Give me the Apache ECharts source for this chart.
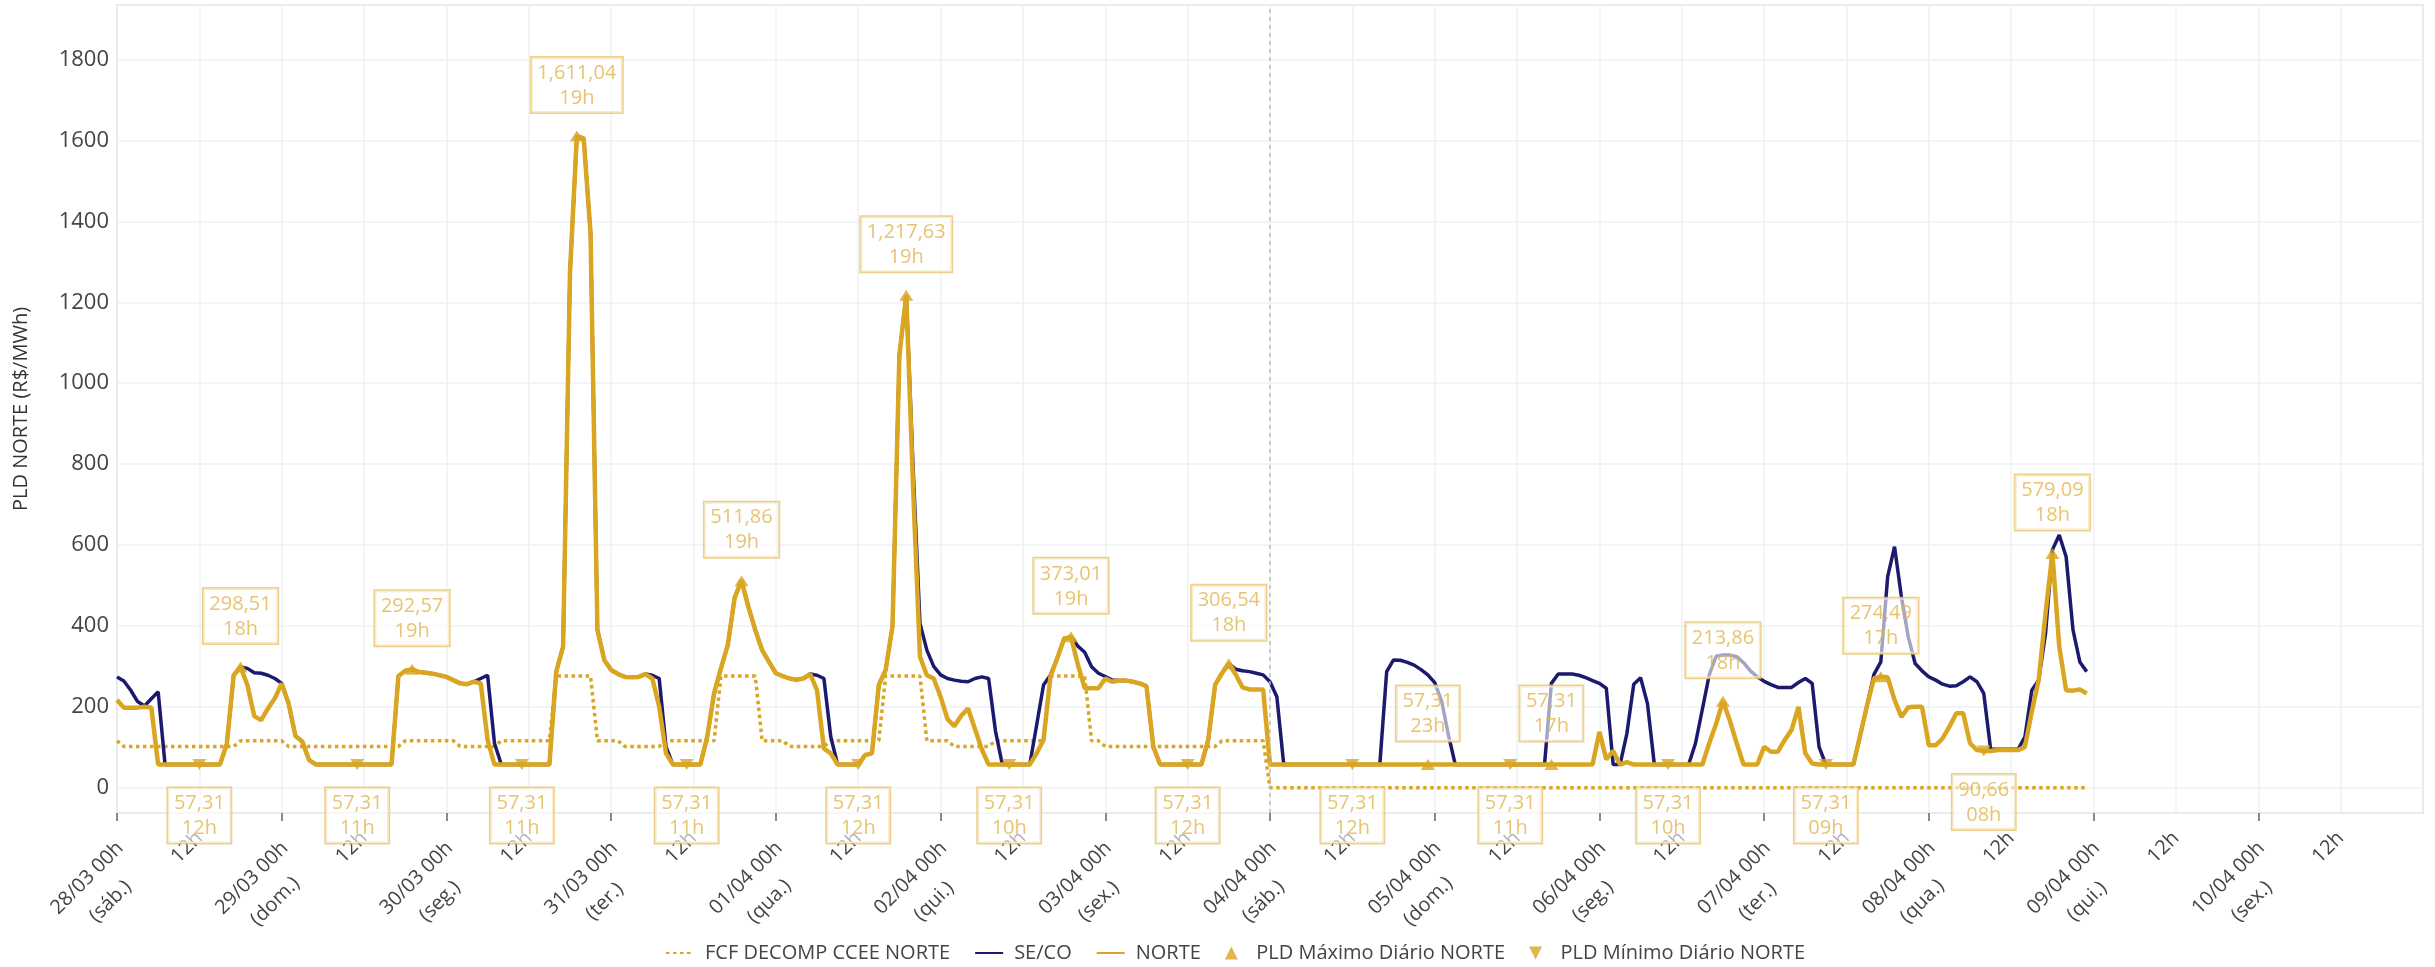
<!DOCTYPE html>
<html><head><meta charset="utf-8">
<script src="https://cdn.jsdelivr.net/npm/echarts@6/dist/echarts.min.js"></script>
<style>html,body{margin:0;padding:0;background:#fff}#c{width:2435px;height:967px}</style>
</head><body><div id="c"></div>
<script>
// Hourly values, index 0 = 28/03 00h
const fcfDecomp = [
// 28/03
116,102,102,102,102,102,102,102,102,102,102,102,102,102,102,102,102,102,116,116,116,116,116,116,
// 29/03
116,102,102,102,102,102,102,102,102,102,102,102,102,102,102,102,102,102,116,116,116,116,116,116,
// 30/03
116,116,102,102,102,102,102,102,116,116,116,116,116,116,116,116,276,276,276,276,276,276,116,116,
// 31/03
116,116,102,102,102,102,102,102,116,116,116,116,116,116,116,116,276,276,276,276,276,276,116,116,
// 01/04
116,116,102,102,102,102,102,102,116,116,116,116,116,116,116,116,276,276,276,276,276,276,116,116,
// 02/04
116,116,102,102,102,102,102,102,116,116,116,116,116,116,116,116,276,276,276,276,276,276,116,116,
// 03/04
102,102,102,102,102,102,102,102,102,102,102,102,102,102,102,102,102,116,116,116,116,116,116,116,
// 04/04
0,0,0,0,0,0,0,0,0,0,0,0,0,0,0,0,0,0,0,0,0,0,0,0,
// 05/04
0,0,0,0,0,0,0,0,0,0,0,0,0,0,0,0,0,0,0,0,0,0,0,0,
// 06/04
0,0,0,0,0,0,0,0,0,0,0,0,0,0,0,0,0,0,0,0,0,0,0,0,
// 07/04
0,0,0,0,0,0,0,0,0,0,0,0,0,0,0,0,0,0,0,0,0,0,0,0,
// 08/04
0,0,0,0,0,0,0,0,0,0,0,0,0,0,0,0,0,0,0,0,0,0,0,0
];

const seco = [
// 28/03
274,264,241,213,202,220,237,57.31,57.31,57.31,57.31,57.31,57.31,57.31,57.31,57.31,108,278,298.51,295,284,283,278,270,
// 29/03
258,208,128,114,68,57.31,57.31,57.31,57.31,57.31,57.31,57.31,57.31,57.31,57.31,57.31,57.31,276,289,292.57,286,284,282,278,
// 30/03
274,266,258,256,262,270,278,110,57.31,57.31,57.31,57.31,57.31,57.31,57.31,57.31,287,349,1272,1611.04,1605,1370,390,316,
// 31/03
291,281,274,273,274,281,278,270,101,57.31,57.31,57.31,57.31,57.31,126,233,295,353,470,511.86,447,390,340,311,
// 01/04
283,276,270,267,270,281,278,270,126,57.31,57.31,57.31,57.31,81,85,254,291,400,1070,1217.63,790,406,340,300,
// 02/04
279,270,266,263,262,270,274,270,140,57.31,57.31,57.31,57.31,57.31,155,254,278,320,369,373.01,350,335,299,283,
// 03/04
275,266,265,265,262,258,251,101,57.31,57.31,57.31,57.31,57.31,57.31,57.31,118,254,283,306.54,293,289,287,283,279,
// 04/04
262,225,57.31,57.31,57.31,57.31,57.31,57.31,57.31,57.31,57.31,57.31,57.31,57.31,57.31,57.31,57.31,287,316,315,310,303,292,279,
// 05/04
260,215,130,57.31,57.31,57.31,57.31,57.31,57.31,57.31,57.31,57.31,57.31,57.31,57.31,57.31,57.31,258,281,281,281,278,272,265,
// 06/04
258,246,57.31,57.31,134,256,272,208,57.31,57.31,57.31,57.31,57.31,57.31,110,194,279,325,328,328,324,309,289,274,
// 07/04
263,255,248,248,248,260,270,258,101,57.31,57.31,57.31,57.31,57.31,130,204,280,311,522,596,472,373,307,289,
// 08/04
274,266,256,251,252,262,274,262,233,95,95,95,95,95,126,241,266,381,588,625,571,390,311,287
];

const norte = [
// 28/03
217,198,198,198,200,198,57.31,57.31,57.31,57.31,57.31,57.31,57.31,57.31,57.31,57.31,108,278,298.51,254,177,167,196,221,
// 29/03
258,208,128,114,68,57.31,57.31,57.31,57.31,57.31,57.31,57.31,57.31,57.31,57.31,57.31,57.31,276,289,292.57,286,284,282,278,
// 30/03
274,266,258,256,262,258,118,57.31,57.31,57.31,57.31,57.31,57.31,57.31,57.31,57.31,287,349,1272,1611.04,1605,1370,390,316,
// 31/03
291,281,274,273,274,281,270,200,85,57.31,57.31,57.31,57.31,57.31,126,233,295,353,470,511.86,447,390,340,311,
// 01/04
283,276,270,267,270,281,241,97,85,57.31,57.31,57.31,57.31,81,85,254,291,400,1070,1217.63,740,324,278,270,
// 02/04
225,170,152,178,196,146,95,57.31,57.31,57.31,57.31,57.31,57.31,57.31,85,118,274,320,369,373.01,305,246,246,246,
// 03/04
270,262,265,265,262,258,251,101,57.31,57.31,57.31,57.31,57.31,57.31,57.31,118,254,283,306.54,280,248,243,243,243,
// 04/04
57.31,57.31,57.31,57.31,57.31,57.31,57.31,57.31,57.31,57.31,57.31,57.31,57.31,57.31,57.31,57.31,57.31,57.31,57.31,57.31,57.31,57.31,57.31,57.31,
// 05/04
57.31,57.31,57.31,57.31,57.31,57.31,57.31,57.31,57.31,57.31,57.31,57.31,57.31,57.31,57.31,57.31,57.31,57.31,57.31,57.31,57.31,57.31,57.31,57.31,
// 06/04
138,70,91,57.31,63,57.31,57.31,57.31,57.31,57.31,57.31,57.31,57.31,57.31,57.31,57.31,110,158,213.86,166,110,57.31,57.31,57.31,
// 07/04
101,89,89,118,143,200,85,60,57.31,57.31,57.31,57.31,57.31,57.31,130,204,270,274.49,273,217,175,199,200,200,
// 08/04
105,105,122,151,184,184,110,93,90.66,91,93,93,93,93,101,188,266,431,579.09,349,241,240,243,233
];

// Daily max / min of NORTE (hour index, value)
const maxHour = [18, 43, 67, 91, 115, 139, 162, 191, 209, 234, 257, 282];
const maxValue = [298.51, 292.57, 1611.04, 511.86, 1217.63, 373.01, 306.54, 57.31, 57.31, 213.86, 274.49, 579.09];
const minHour = [12, 35, 59, 83, 108, 130, 156, 180, 203, 226, 249, 272];
const minValue = [57.31, 57.31, 57.31, 57.31, 57.31, 57.31, 57.31, 57.31, 57.31, 57.31, 57.31, 90.66];

// Tick labels
const tickDates = ['28/03','29/03','30/03','31/03','01/04','02/04','03/04','04/04','05/04','06/04','07/04','08/04','09/04','10/04','11/04'];
const tickDays = ['sáb.','dom.','seg.','ter.','qua.','qui.','sex.','sáb.','dom.','seg.','ter.','qua.','qui.','sex.','sáb.'];
const yTicks = [0, 200, 400, 600, 800, 1000, 1200, 1400, 1600, 1800];

const GOLD = '#DAA520', NAVY = '#1B1A6E', LBL = '#E2B44C', LBLB = '#E8C46E';
const FONT = 'Open Sans';

function fmt(v) {
  const s = v.toFixed(2).split('.');
  return s[0].replace(/\B(?=(\d{3})+(?!\d))/g, ',') + ',' + s[1];
}
function hh(h) { const x = h % 24; return (x < 10 ? '0' : '') + x + 'h'; }

const chart = echarts.init(document.getElementById('c'), null, {renderer: 'canvas'});
const labelBox = {
  show: true, color: LBL, fontSize: 20, fontFamily: FONT, lineHeight: 25,
  borderColor: LBLB, borderWidth: 1.5, padding: [3, 6, 2, 6],
  backgroundColor: 'rgba(255,255,255,0.75)',
  formatter: p => fmt(p.value[1]) + '\n' + hh(p.value[0])
};

chart.setOption({
  animation: false,
  backgroundColor: '#fff',
  grid: {left: 117, right: 12, top: 5, bottom: 154, show: true, borderColor: '#d9d9d9', borderWidth: 2, containLabel: false},
  legend: {
    left: 660, top: 938, itemWidth: 28, itemHeight: 13, itemGap: 24,
    textStyle: {fontSize: 20, color: '#444', fontFamily: FONT, padding: [0, 0, 0, 6]},
    data: [
      {name: 'FCF DECOMP CCEE NORTE', itemStyle: {opacity: 0}},
      {name: 'SE/CO', itemStyle: {opacity: 0}},
      {name: 'NORTE', itemStyle: {opacity: 0}},
      {name: 'PLD Máximo Diário NORTE', icon: 'path://M0,10L5,0L10,10Z'},
      {name: 'PLD Mínimo Diário NORTE', icon: 'path://M0,0L10,0L5,10Z'}
    ]
  },
  xAxis: [{
    type: 'value', min: 0, max: 336, interval: 12,
    axisLine: {show: false}, axisTick: {show: false},
    splitLine: {show: true, lineStyle: {color: '#edf0f7', width: 1.5}},
    axisLabel: {
      rotate: 45, margin: 22, showMaxLabel: false, color: '#444', fontSize: 20, fontFamily: FONT,
      formatter: v => v % 24 === 0 ? '' : '12h'
    }
  }, {
    type: 'value', min: 0, max: 336, interval: 24, position: 'bottom',
    axisLine: {show: false},
    axisTick: {show: true, length: 8, lineStyle: {color: '#666', width: 1.5}},
    splitLine: {show: false},
    axisLabel: {
      rotate: 45, margin: 12, verticalAlign: 'top', padding: [0, 12, 0, 0],
      showMaxLabel: false, color: '#444', fontSize: 20, fontFamily: FONT, lineHeight: 33,
      formatter: v => { const i = v / 24; return '{a|' + tickDates[i] + ' 00h}\n{b|(' + tickDays[i] + ')}'; },
      rich: {
        a: {fontSize: 20, fontFamily: FONT, color: '#444', lineHeight: 33},
        b: {width: 78, align: 'center', fontSize: 20, fontFamily: FONT, color: '#444', lineHeight: 33}
      }
    }
  }],
  yAxis: {
    type: 'value', min: -62.5, max: 1935, splitNumber: 10,
    name: 'PLD NORTE (R$/MWh)', nameLocation: 'middle', nameGap: 86,
    nameTextStyle: {fontSize: 20, color: '#333', fontFamily: FONT},
    axisLine: {show: false}, axisTick: {show: false},
    splitLine: {show: true, lineStyle: {color: '#edf0f7', width: 1.5}},
    axisLabel: {showMinLabel: false, showMaxLabel: false, color: '#444', fontSize: 22, fontFamily: FONT, margin: 8,
      formatter: v => yTicks.indexOf(v) >= 0 ? String(v) : ''}
  },
  series: [{
    name: 'FCF DECOMP CCEE NORTE', type: 'line', xAxisIndex: 0, symbol: 'none',
    data: fcfDecomp.map((v, i) => [i, v]),
    lineStyle: {color: GOLD, width: 3.5, type: [3.5, 3.5]}, itemStyle: {color: GOLD},
    markLine: {silent: true, symbol: 'none', label: {show: false},
      lineStyle: {color: '#bdbdbd', width: 1.5, type: [4, 4]}, data: [{xAxis: 168}]}
  }, {
    name: 'SE/CO', type: 'line', xAxisIndex: 0, symbol: 'none',
    data: seco.map((v, i) => [i, v]),
    lineStyle: {color: NAVY, width: 3.5}, itemStyle: {color: NAVY}
  }, {
    name: 'NORTE', type: 'line', xAxisIndex: 0, symbol: 'none',
    data: norte.map((v, i) => [i, v]),
    lineStyle: {color: GOLD, width: 4.5}, itemStyle: {color: GOLD}
  }, {
    name: 'PLD Máximo Diário NORTE', type: 'scatter', xAxisIndex: 0, symbol: 'triangle', symbolSize: [14, 11],
    data: maxHour.map((h, i) => [h, maxValue[i]]), itemStyle: {color: GOLD},
    label: Object.assign({}, labelBox, {position: 'top', distance: 18}), z: 5
  }, {
    name: 'PLD Mínimo Diário NORTE', type: 'scatter', xAxisIndex: 0, symbol: 'triangle', symbolRotate: 180, symbolSize: [14, 11],
    data: minHour.map((h, i) => [h, minValue[i]]), itemStyle: {color: GOLD},
    label: Object.assign({}, labelBox, {position: 'bottom', distance: 18}), z: 5
  }]
});
</script>
</body></html>
